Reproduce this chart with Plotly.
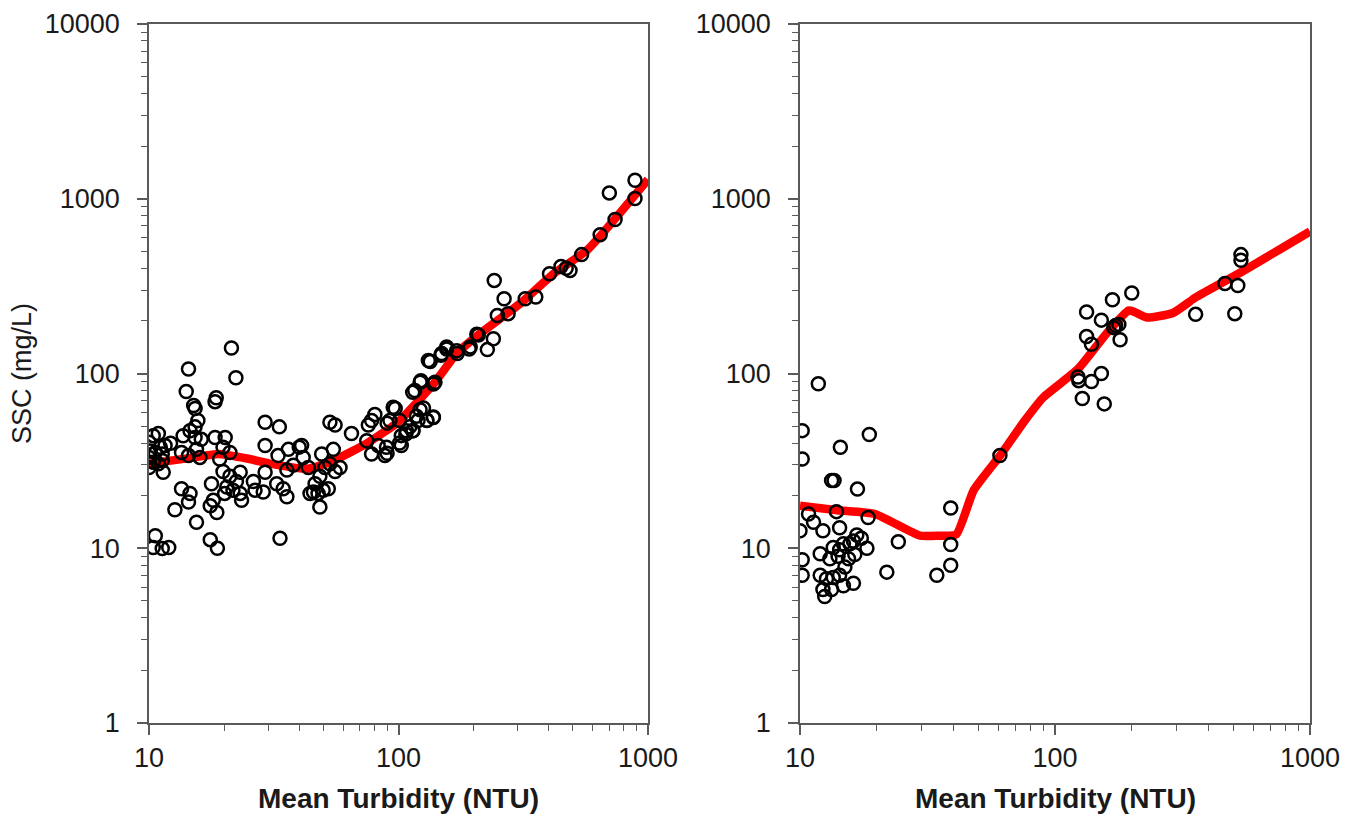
import plotly.graph_objects as go

# ---- Left panel: observations ----
left_turb = [
    10.0, 10.4, 10.9, 10.0, 10.0, 10.6, 11.1, 11.6, 12.2, 11.3, 10.9, 11.4, 11.3, 10.4, 10.1,
    10.6, 10.4, 11.3, 12.0,
    14.4, 21.4, 22.3, 14.1, 15.1, 15.3, 18.6, 18.4, 15.7, 15.3,
    13.7, 14.6, 15.3, 16.2, 13.5, 14.4, 15.5, 16.0, 18.4, 20.2, 19.8, 21.1, 19.2,
    29.2, 33.3, 29.2, 32.9, 36.2, 40.0, 41.5, 37.9, 43.5, 35.7,
    19.8, 21.1, 22.4, 23.2, 20.5, 21.7, 23.2, 20.1, 23.5, 26.2, 26.6, 29.2, 28.7,
    32.5, 34.5, 35.7, 33.5, 17.8, 18.1, 17.6, 18.7, 13.5, 14.6, 14.4, 12.7, 15.5,
    17.6, 18.8,
    40.9, 45.6, 46.3, 48.4, 49.2, 50.7, 53.1, 54.8, 55.7, 52.3, 49.9, 48.4, 44.2, 47.6,
    58.3, 53.1, 55.7, 64.8, 75.7, 78.0, 80.4, 74.6, 78.0, 82.9, 88.2, 89.5, 95.2, 92.4,
    101.0, 102.6, 102.6, 107.5, 110.9, 114.4, 119.8, 122.1, 116.2, 125.9, 129.8, 137.9,
    140.0, 131.7, 148.9, 156.0, 171.0, 193.9, 206.0,
    887.0, 887.0, 700.0, 738.0, 643.0, 542.0, 487.0, 470.0, 448.0, 403.0, 322.0, 355.0,
    242.0, 265.0, 275.0, 249.0, 240.0, 227.0, 209.0, 192.0, 172.0, 156.0, 148.0, 134.0,
    138.0, 123.0, 114.0, 97.0, 122.0, 138.0, 130.0, 118.0, 114.0, 107.0, 101.0, 90.0, 90.0,
]
left_ssc = [
    40.4, 44.1, 45.4, 33.1, 29.0, 35.3, 37.8, 38.7, 39.9, 34.6, 30.4, 27.2, 31.8, 31.1, 36.0,
    11.8, 10.1, 9.96, 10.1,
    106.0, 140.0, 94.5, 78.9, 65.6, 63.0, 72.6, 69.0, 53.8, 49.5,
    44.0, 47.0, 43.0, 42.0, 35.3, 33.9, 36.8, 33.1, 43.0, 43.0, 37.8, 35.3, 32.4,
    52.6, 49.5, 38.7, 33.9, 36.8, 37.9, 33.1, 29.9, 29.0, 28.0,
    27.5, 25.8, 24.1, 27.2, 22.4, 21.5, 20.6, 20.6, 18.8, 24.1, 21.5, 27.2, 21.0,
    23.4, 21.9, 19.7, 11.4, 23.4, 18.8, 17.5, 16.0, 21.9, 20.6, 18.4, 16.6, 14.1,
    11.2, 10.0,
    38.7, 21.0, 23.4, 25.8, 34.6, 29.0, 30.4, 36.8, 27.5, 21.9, 21.5, 17.2, 20.6, 20.6,
    29.0, 52.6, 50.7, 45.4, 50.7, 53.8, 58.2, 41.2, 34.6, 38.7, 33.9, 37.8, 64.1, 53.8,
    53.8, 44.1, 38.7, 47.0, 49.5, 47.0, 53.8, 89.2, 80.0, 63.5, 53.8, 56.3,
    89.2, 118.8, 130.0, 142.0, 135.0, 142.0, 168.0,
    1276.0, 1003.0, 1080.0, 760.0, 623.0, 479.0, 389.0, 400.0, 410.0, 372.0, 268.0, 274.0,
    341.0, 268.0, 220.0, 215.0, 158.0, 137.0, 166.0, 138.0, 130.0, 138.0, 127.0, 117.0,
    87.0, 91.0, 78.0, 63.0, 62.0, 56.0, 54.0, 57.0, 47.0, 45.0, 40.0, 35.0, 52.0,
]

# ---- Left panel: fitted curve ----
left_fit_turb = [10, 15, 19, 25, 31, 43, 55, 75, 100, 138, 171, 212, 307, 418, 570, 1000]
left_fit_ssc = [30.5, 33, 34.6, 32.5, 30.4, 28.5, 31.8, 40, 53, 87, 130, 169, 251, 372, 508, 1290]

# ---- Right panel: observations ----
right_turb = [
    11.8, 10.2, 18.7, 10.2, 14.4, 13.3, 13.6, 16.8, 10.8, 13.9, 18.5, 11.3, 10.0, 12.3, 14.3,
    24.3, 18.3, 16.7, 17.4, 16.2, 15.7, 14.8, 14.3, 13.5, 10.2, 12.0, 13.1, 14.1, 15.5, 16.4,
    15.0, 10.2, 12.0, 12.7, 13.5, 14.3, 16.2, 12.3, 13.3, 14.8, 12.5, 21.9, 34.4,
    39.0, 39.0, 39.0, 60.8,
    536.0, 536.0, 464.0, 521.0, 507.0, 356.0, 200.0, 168.0, 133.0, 152.0, 173.0, 178.0,
    170.0, 180.0, 133.0, 139.0, 123.0, 124.0, 139.0, 152.0, 128.0, 156.0,
]
right_ssc = [
    87.3, 47.1, 44.8, 32.4, 37.8, 24.4, 24.4, 21.8, 15.7, 16.2, 15.0, 14.1, 12.6, 12.6, 13.1,
    10.9, 10.0, 11.9, 11.4, 11.0, 10.6, 10.6, 9.8, 10.1, 8.6, 9.3, 8.7, 9.0, 8.7, 9.2,
    7.8, 7.0, 7.0, 6.7, 6.8, 7.0, 6.3, 5.8, 5.8, 6.1, 5.3, 7.3, 7.0,
    17.0, 10.5, 8.0, 33.9,
    479.0, 445.0, 327.0, 319.0, 220.0, 218.0, 289.0, 264.0, 225.0, 202.0, 188.0, 191.0,
    183.0, 156.0, 163.0, 147.0, 95.5, 91.0, 90.0, 100.0, 72.0, 67.0,
]

# ---- Right panel: fitted curve ----
right_fit_turb = [10, 14, 19.7, 29.5, 35, 41, 48, 61, 76, 90, 123, 159, 194, 205, 229, 290, 358, 530, 1000]
right_fit_ssc = [17.5, 16.5, 15.7, 11.8, 11.8, 12.0, 21.5, 34, 53.6, 73, 106, 169, 229, 225, 209, 222, 274, 376, 650]

X_TICKS = [10, 100, 1000]
Y_TICKS = [1, 10, 100, 1000, 10000]

AXIS_COLOR = "#5a5a5a"
TEXT_COLOR = "#1a1a1a"
FONT = "Liberation Sans, Arial, sans-serif"

# page size and plot-area margins (pixels)
W, H = 1356, 814
M_L, M_R, M_T, M_B = 149, 46, 24, 91
PW, PH = W - M_L - M_R, H - M_T - M_B

LEFT_X_DOMAIN = [0.0, (648 - M_L) / PW]
RIGHT_X_DOMAIN = [(800 - M_L) / PW, 1.0]


def minor_vals(lo_exp, hi_exp):
    vals = []
    for e in range(lo_exp, hi_exp):
        for m in range(2, 10):
            vals.append(m * 10 ** e)
    return vals


fig = go.Figure()

panels = [
    ("x", "y", left_turb, left_ssc, left_fit_turb, left_fit_ssc),
    ("x2", "y2", right_turb, right_ssc, right_fit_turb, right_fit_ssc),
]
for xa, ya, tx, sy, fx, fy in panels:
    fig.add_trace(go.Scatter(
        x=fx, y=fy, mode="lines", xaxis=xa, yaxis=ya,
        line=dict(color="#ff0000", width=8.5, shape="spline", smoothing=0.5),
        hoverinfo="skip", showlegend=False,
    ))
    fig.add_trace(go.Scatter(
        x=tx, y=sy, mode="markers", xaxis=xa, yaxis=ya,
        marker=dict(symbol="circle-open", size=13, color="black",
                    line=dict(width=2.5, color="black")),
        showlegend=False,
    ))

xaxis_common = dict(
    type="log", range=[1, 3], tickmode="array", tickvals=X_TICKS,
    ticktext=[str(v) for v in X_TICKS],
    ticks="outside", ticklen=10, tickwidth=1.5, tickcolor=AXIS_COLOR,
    showline=True, linecolor=AXIS_COLOR, linewidth=1.5, mirror=True,
    showgrid=False, zeroline=False, automargin=False,
    tickfont=dict(family=FONT, size=27, color=TEXT_COLOR),
    ticklabelstandoff=0,
    minor=dict(tickvals=minor_vals(1, 3), ticks="outside", ticklen=6,
               tickwidth=1.2, tickcolor=AXIS_COLOR, showgrid=False),
)
yaxis_common = dict(
    type="log", range=[0, 4], tickmode="array", tickvals=Y_TICKS,
    ticktext=[str(v) for v in Y_TICKS],
    ticks="outside", ticklen=10, tickwidth=1.5, tickcolor=AXIS_COLOR,
    showline=True, linecolor=AXIS_COLOR, linewidth=1.5, mirror=True,
    showgrid=False, zeroline=False, automargin=False,
    tickfont=dict(family=FONT, size=27, color=TEXT_COLOR),
    ticklabelstandoff=12,
    minor=dict(tickvals=minor_vals(0, 4), ticks="outside", ticklen=6,
               tickwidth=1.2, tickcolor=AXIS_COLOR, showgrid=False),
)

fig.update_layout(
    width=W, height=H,
    margin=dict(l=M_L, r=M_R, t=M_T, b=M_B, pad=0),
    paper_bgcolor="white", plot_bgcolor="white",
    xaxis=dict(domain=LEFT_X_DOMAIN, anchor="y", **xaxis_common),
    yaxis=dict(domain=[0, 1], anchor="x", **yaxis_common),
    xaxis2=dict(domain=RIGHT_X_DOMAIN, anchor="y2", **xaxis_common),
    yaxis2=dict(domain=[0, 1], anchor="x2", **yaxis_common),
    annotations=[
        dict(text="<b>Mean Turbidity (NTU)</b>", x=sum(LEFT_X_DOMAIN) / 2, y=(H - M_B - 798) / PH,
             xref="paper", yref="paper", showarrow=False, xanchor="center", yanchor="middle",
             font=dict(family=FONT, size=28, color=TEXT_COLOR)),
        dict(text="<b>Mean Turbidity (NTU)</b>", x=sum(RIGHT_X_DOMAIN) / 2, y=(H - M_B - 798) / PH,
             xref="paper", yref="paper", showarrow=False, xanchor="center", yanchor="middle",
             font=dict(family=FONT, size=28, color=TEXT_COLOR)),
        dict(text="SSC (mg/L)", x=(22 - M_L) / PW, y=(H - M_B - 373) / PH, textangle=-90,
             xref="paper", yref="paper", showarrow=False, xanchor="center", yanchor="middle",
             font=dict(family=FONT, size=27, color=TEXT_COLOR)),
    ],
)

fig.write_html("out.html")
